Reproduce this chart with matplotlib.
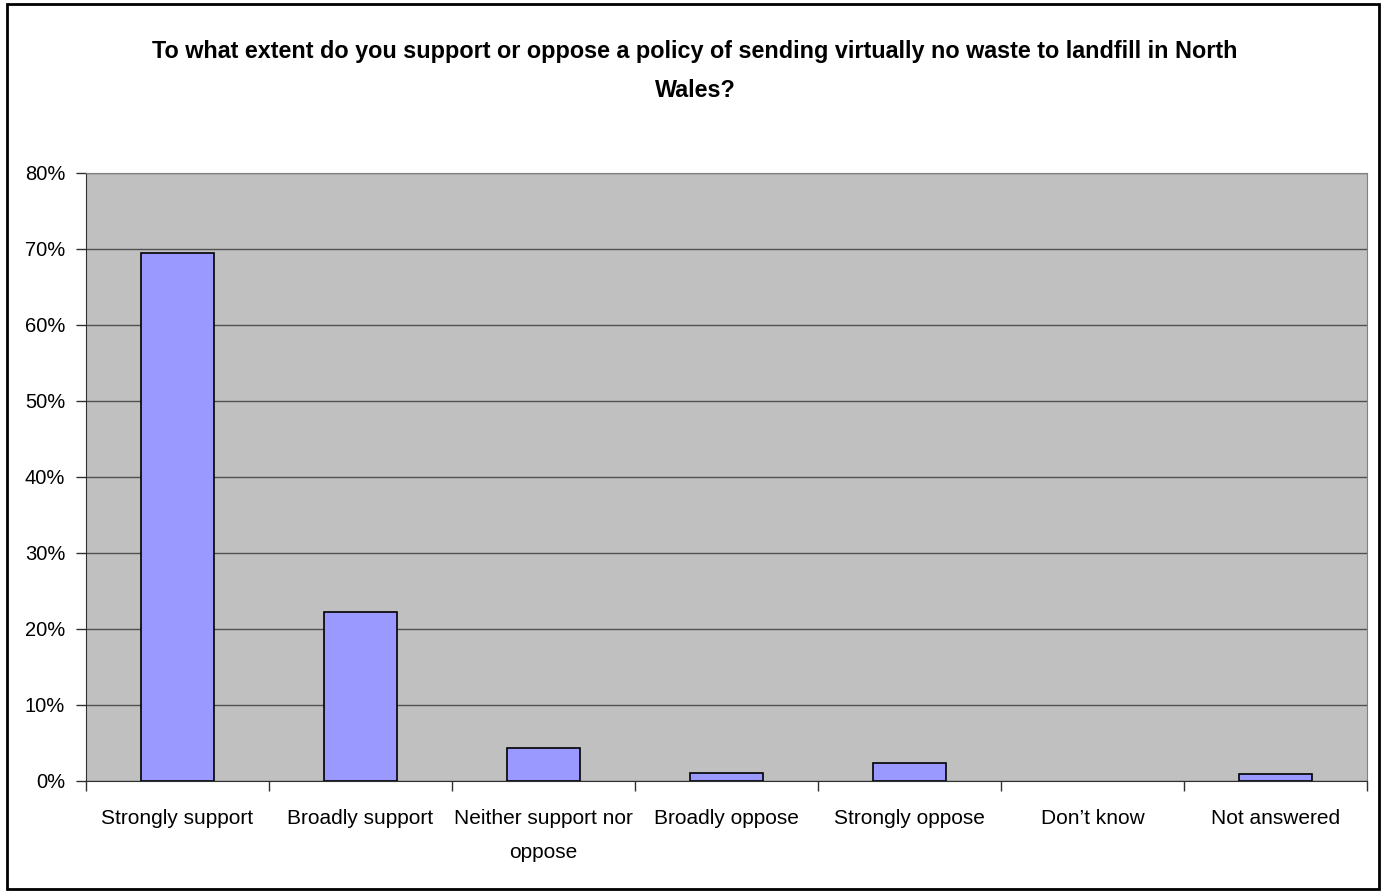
import matplotlib.pyplot as plt
import matplotlib.patches as mpatches
from matplotlib.ticker import FixedLocator, FuncFormatter

plt.rcParams['font.family'] = ['Liberation Sans', 'DejaVu Sans']

# Ответы на вопрос и доли (в процентах)
categories = [
    'Strongly support', 'Broadly support', 'Neither support nor\noppose',
    'Broadly oppose', 'Strongly oppose', 'Don\u2019t know', 'Not answered',
]
shares = [69.5, 22.2, 4.4, 1.1, 2.4, 0.0, 0.9]
y_ticks = [0, 10, 20, 30, 40, 50, 60, 70, 80]
title = ('To what extent do you support or oppose a policy of sending virtually no waste to landfill in North\n'
         'Wales?')

fig = plt.figure(figsize=(13.84, 8.91), dpi=100)
ax = fig.add_axes([86 / 1384, 1 - 781 / 891, (1367 - 86) / 1384, (781 - 173) / 891])
ax.set_facecolor('#C0C0C0')

x = list(range(len(categories)))
# нулевые столбцы Excel не рисует вовсе, поэтому у них нет контура
edge_widths = [1.2 if v > 0 else 0 for v in shares]
ax.bar(x, shares, width=0.4, color='#9999FF', edgecolor='black', linewidth=edge_widths, zorder=3)

ax.set_xlim(-0.5, len(categories) - 0.5)
ax.set_ylim(0, 80)
ax.set_yticks(y_ticks)
ax.yaxis.set_major_formatter(FuncFormatter(lambda v, _: f'{v:.0f}%'))
ax.yaxis.grid(True, color='#505050', linewidth=1.0, zorder=1)

ax.set_xticks(x)
ax.set_xticklabels(categories, linespacing=2.0)
ax.xaxis.set_minor_locator(FixedLocator([i - 0.5 for i in range(len(categories) + 1)]))
ax.tick_params(axis='x', which='major', length=0, pad=20, labelsize=15)
ax.tick_params(axis='x', which='minor', length=7, width=1, color='#303030')
ax.tick_params(axis='y', length=7, width=1, color='#303030', pad=8, labelsize=14.5)

for side in ['top', 'right']:
    ax.spines[side].set_color('#808080')
for side in ['left', 'bottom']:
    ax.spines[side].set_color('#303030')

fig.text(695 / 1384, 1 - 71 / 891, title, ha='center', va='center', fontsize=16.8,
         fontweight='bold', linespacing=1.93)

# Рамка вокруг всей диаграммы
fig.patches.append(mpatches.Rectangle((7 / 1384, 2 / 891), (1379 - 7) / 1384, (887 - 2) / 891,
                                      transform=fig.transFigure, fill=False,
                                      edgecolor='black', linewidth=2))

fig.savefig('out.png', dpi=100)
